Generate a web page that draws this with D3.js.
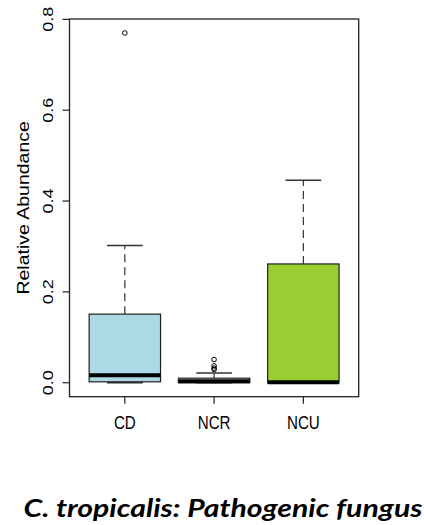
<!DOCTYPE html>
<html>
<head>
<meta charset="utf-8">
<script src="https://cdn.jsdelivr.net/npm/d3@7"></script>
<style>
  body { margin: 0; background: #fff; }
  svg { display: block; }
  .tick-label, .axis-title { font-family: "Liberation Sans", Arial, sans-serif; fill: #000; }
  .title { font-family: Lato, "Open Sans", sans-serif; font-weight: bold; font-style: italic; fill: #000; }
</style>
</head>
<body>
<div id="chart"></div>
<script>
// Box plot values
const groups = ["CD", "NCR", "NCU"];
const whiskerLow = [0, 0, 0];
const q1 = [0.002, 0.0, 0.0];
const medians = [0.0165, 0.003, 0.0012];
const q3 = [0.151, 0.010, 0.2615];
const whiskerHigh = [0.302, 0.0215, 0.446];
const outliers = [[0.770], [0.051, 0.037, 0.032, 0.029], []];
const yTicks = [0.0, 0.2, 0.4, 0.6, 0.8];
const yTickLabels = ["0.0", "0.2", "0.4", "0.6", "0.8"];

const fills = ["#ADD8E6", "#F5DEB3", "#9ACD32"];

const W = 424, H = 525;
const plot = {left: 69.5, right: 358.7, top: 19, bottom: 396.7};

const svg = d3.select("#chart")
    .append("svg")
    .attr("width", W)
    .attr("height", H);

// R style padded ranges
const xScale = d3.scaleLinear()
    .domain([0.38, 3.62])
    .range([plot.left, plot.right]);

const yScale = d3.scaleLinear()
    .domain([-0.0308, 0.8008])
    .range([plot.bottom, plot.top]);

const boxHalf = 0.4, capHalf = 0.2;

groups.forEach((g, i) => {
    const cx = xScale(i + 1);
    const gEl = svg.append("g");

    // whiskers (dashed)
    gEl.append("line")
        .attr("x1", cx).attr("x2", cx)
        .attr("y1", yScale(q3[i])).attr("y2", yScale(whiskerHigh[i]))
        .attr("stroke", "#333").attr("stroke-width", 1.2)
        .attr("stroke-dasharray", "8,5");
    gEl.append("line")
        .attr("x1", cx).attr("x2", cx)
        .attr("y1", yScale(q1[i])).attr("y2", yScale(whiskerLow[i]))
        .attr("stroke", "#333").attr("stroke-width", 1.2)
        .attr("stroke-dasharray", "8,5");

    // caps
    [whiskerHigh[i], whiskerLow[i]].forEach(v => {
        gEl.append("line")
            .attr("x1", xScale(i + 1 - capHalf)).attr("x2", xScale(i + 1 + capHalf))
            .attr("y1", yScale(v)).attr("y2", yScale(v))
            .attr("stroke", "#333").attr("stroke-width", 1.5);
    });

    // box
    gEl.append("rect")
        .attr("x", xScale(i + 1 - boxHalf))
        .attr("width", xScale(i + 1 + boxHalf) - xScale(i + 1 - boxHalf))
        .attr("y", yScale(q3[i]))
        .attr("height", Math.max(yScale(q1[i]) - yScale(q3[i]), 0))
        .attr("fill", fills[i])
        .attr("stroke", "#222").attr("stroke-width", 1.2);

    // median
    gEl.append("line")
        .attr("x1", xScale(i + 1 - boxHalf)).attr("x2", xScale(i + 1 + boxHalf))
        .attr("y1", yScale(medians[i])).attr("y2", yScale(medians[i]))
        .attr("stroke", "#000").attr("stroke-width", 4);

    // outliers
    gEl.selectAll("circle")
        .data(outliers[i])
        .enter()
        .append("circle")
        .attr("cx", cx)
        .attr("cy", d => yScale(d))
        .attr("r", 2.3)
        .attr("fill", "none")
        .attr("stroke", "#000").attr("stroke-width", 1);
});

// frame
svg.append("rect")
    .attr("x", plot.left).attr("y", plot.top)
    .attr("width", plot.right - plot.left)
    .attr("height", plot.bottom - plot.top)
    .attr("fill", "none")
    .attr("stroke", "#222").attr("stroke-width", 1.3);

// y axis ticks + labels
yTicks.forEach((v, i) => {
    svg.append("line")
        .attr("x1", plot.left - 7).attr("x2", plot.left)
        .attr("y1", yScale(v)).attr("y2", yScale(v))
        .attr("stroke", "#222").attr("stroke-width", 1.2);
    svg.append("text")
        .attr("class", "tick-label")
        .attr("transform", `translate(53,${yScale(v)}) scale(0.82,1) rotate(-90)`)
        .attr("text-anchor", "middle")
        .style("font-size", "18px")
        .text(yTickLabels[i]);
});

// x axis ticks + labels
groups.forEach((g, i) => {
    const cx = xScale(i + 1);
    svg.append("line")
        .attr("x1", cx).attr("x2", cx)
        .attr("y1", plot.bottom).attr("y2", plot.bottom + 7)
        .attr("stroke", "#222").attr("stroke-width", 1.2);
    svg.append("text")
        .attr("class", "tick-label")
        .attr("transform", `translate(${cx},429) scale(0.82,1)`)
        .attr("text-anchor", "middle")
        .style("font-size", "18.5px")
        .text(g);
});

// y axis title
svg.append("text")
    .attr("class", "axis-title")
    .attr("transform", `translate(28.5,${(plot.top + plot.bottom) / 2}) scale(0.82,1) rotate(-90)`)
    .attr("text-anchor", "middle")
    .style("font-size", "19.5px")
    .text("Relative Abundance");

// caption
svg.append("text")
    .attr("class", "title")
    .attr("x", 23.5)
    .attr("y", 517)
    .attr("textLength", 399)
    .attr("lengthAdjust", "spacingAndGlyphs")
    .style("font-size", "25px")
    .text("C. tropicalis: Pathogenic fungus");
</script>
</body>
</html>
